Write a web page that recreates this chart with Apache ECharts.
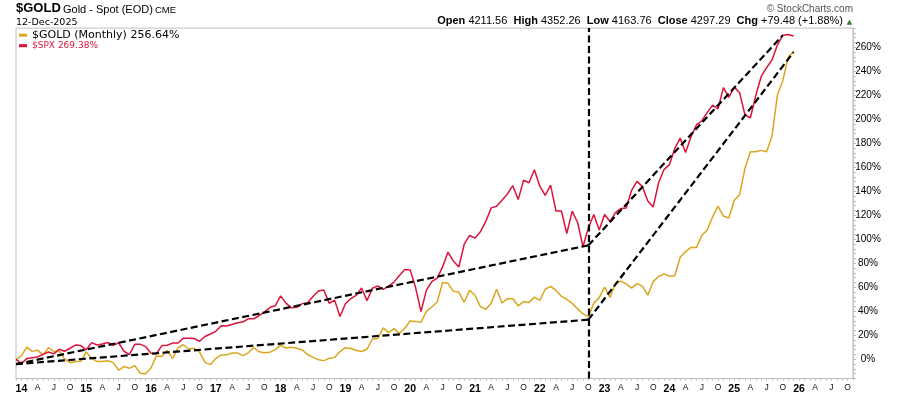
<!DOCTYPE html>
<html>
<head>
<meta charset="utf-8">
<title>$GOLD vs $SPX</title>
<script src="https://cdn.jsdelivr.net/npm/echarts@6/dist/echarts.min.js"></script>
<style>
  html, body { margin: 0; padding: 0; background: #fff; }
  #chart { width: 900px; height: 396px; }
</style>
</head>
<body>
<div id="chart"></div>
<script>
// % change since Dec-2013 close, monthly, Dec 2013 .. Dec 2025
let goldPct = [
  0,
  2.9, 10.1, 6.6, 7.6, 3.7, 9.7, 6.5, 6.8, 0.3, -2.8, -1.8, -1.7,
  6.2, 0.7, -1.8, -1.9, -1.2, -2.8, -9.1, -6.0, -7.5, -5.3, -11.6, -12.0,
  -7.3, 2.8, 2.3, 7.3, 0.8, 9.6, 12.1, 8.6, 9.2, 6.0, -2.6, -4.4,
  0.6, 3.6, 3.7, 5.3, 5.3, 3.1, 5.4, 9.7, 6.3, 5.5, 5.8, 8.1,
  11.6, 9.4, 10.0, 9.2, 7.8, 4.0, 1.6, -0.3, -1.1, 0.8, 1.4, 6.4,
  9.7, 9.0, 7.3, 6.5, 8.4, 16.9, 17.3, 26.2, 22.2, 25.6, 21.5, 25.9,
  31.9, 31.6, 30.9, 40.0, 43.6, 47.8, 64.0, 63.3, 56.6, 56.0, 47.5, 57.6,
  53.4, 43.9, 41.7, 46.8, 58.3, 46.9, 50.6, 50.5, 44.6, 48.0, 47.3, 51.8,
  49.1, 58.4, 60.8, 57.4, 52.5, 50.0, 46.6, 42.0, 37.8, 35.6, 46.8, 51.4,
  60.1, 51.6, 63.4, 65.2, 62.9, 59.3, 63.1, 61.0, 53.4, 64.7, 69.0, 71.2,
  69.3, 69.7, 85.1, 89.8, 93.2, 93.1, 103.1, 107.8, 118.7, 127.7, 119.4, 117.8,
  132.3, 137.2, 159.2, 172.9, 173.0, 174.1, 173.0, 186.1, 220.2, 232.2, 251.8, 256.64
]
let spxPct = [
  0,
  -3.6, 0.6, 1.3, 1.9, 4.1, 6.1, 4.5, 8.4, 6.7, 9.2, 11.9, 11.4,
  7.9, 13.9, 11.9, 12.8, 14.0, 11.6, 13.8, 6.7, 3.9, 12.5, 12.6, 10.6,
  5.0, 4.5, 11.4, 11.7, 13.5, 13.6, 17.6, 17.5, 17.3, 15.0, 19.0, 21.1,
  23.3, 27.9, 27.8, 29.0, 30.5, 31.1, 33.7, 33.7, 36.3, 39.3, 43.2, 44.6,
  52.8, 46.8, 42.9, 43.3, 46.4, 47.1, 52.4, 57.0, 57.7, 46.7, 49.3, 35.6,
  46.3, 50.6, 53.3, 59.4, 48.9, 59.2, 61.2, 58.3, 61.0, 64.3, 69.9, 74.8,
  74.5, 59.8, 39.8, 57.6, 64.7, 67.7, 77.0, 89.4, 81.9, 76.9, 95.9, 103.2,
  101.0, 106.2, 114.9, 126.2, 127.5, 132.5, 137.8, 144.7, 133.1, 149.2, 147.1, 157.9,
  144.3, 136.6, 145.1, 123.6, 123.6, 104.8, 123.5, 114.0, 94.0, 109.5, 120.7, 107.7,
  120.6, 114.8, 122.3, 125.6, 126.1, 140.8, 148.3, 143.9, 132.0, 126.9, 147.1, 158.1,
  162.2, 175.7, 184.3, 172.4, 185.5, 195.4, 198.8, 205.6, 211.8, 208.7, 226.4, 218.2,
  226.8, 222.2, 203.6, 201.3, 219.8, 235.7, 243.0, 249.5, 261.9, 270.1, 270.6, 269.38
]

// dashed trend lines: [fromMonth, fromPct, toMonth, toPct] (month = index into months)
let trendLines = [
  [0, -4, 106, 95],
  [0, -4, 106, 33],
  [106, 95, 142, 270],
  [106, 33, 144, 256]
]
let pivotMonth = 106 // Oct 2022

// x axis runs Dec 2013 .. Nov 2026
let months = []
for (let y = 2013; y <= 2026; y++) {
  for (let m = 1; m <= 12; m++) {
    if ((y === 2013 && m < 12) || (y === 2026 && m > 11)) continue
    months.push(y + '-' + (m < 10 ? '0' + m : m))
  }
}
let quarterLabels = { '04': 'A', '07': 'J', '10': 'O' }

let goldName = '$GOLD (Monthly)'
let spxName = '$SPX'
let goldColor = '#daa520'
let spxColor = '#dc143c'

let headerQuote = '{b|Open} 4211.56  {b|High} 4352.26  {b|Low} 4163.76  {b|Close} 4297.29  {b|Chg} +79.48 (+1.88%)'

function lastLabel(arr) {
  return arr[arr.length - 1].toFixed(2) + '%'
}

let chart = echarts.init(document.getElementById('chart'), null, { renderer: 'canvas' })

let trendSeries = trendLines.map(function (t, i) {
  let s = {
    name: 'trend' + i,
    type: 'line',
    data: [[t[0], t[1]], [t[2], t[3]]],
    symbol: 'none',
    silent: true,
    z: 5,
    lineStyle: { color: '#000', width: 2.2, type: [7, 3.5] }
  }
  if (i === 0) {
    s.markLine = {
      silent: true,
      symbol: 'none',
      label: { show: false },
      lineStyle: { color: '#000', width: 2.2, type: [7, 3.5] },
      data: [{ xAxis: pivotMonth }]
    }
  }
  return s
})

chart.setOption({
  animation: false,
  backgroundColor: '#fff',
  grid: {
    left: 16,
    right: 47,
    top: 28.1,
    bottom: 17.5,
    show: true,
    borderColor: '#c0c0c0',
    borderWidth: 1
  },
  legend: {
    orient: 'vertical',
    left: 19,
    top: 29.7,
    padding: 0,
    itemGap: 0,
    itemWidth: 8,
    itemHeight: 3,
    icon: 'rect',
    selectedMode: false,
    formatter: function (name) {
      return name === goldName ? name + ' ' + lastLabel(goldPct) : name + ' ' + lastLabel(spxPct)
    },
    data: [
      { name: goldName, textStyle: { color: '#000', fontSize: 11, lineHeight: 10, fontFamily: 'DejaVu Sans' } },
      { name: spxName, textStyle: { color: spxColor, fontSize: 9, lineHeight: 10, fontFamily: 'DejaVu Sans' } }
    ]
  },
  xAxis: {
    type: 'category',
    data: months,
    boundaryGap: false,
    axisLine: { show: true, onZero: false, lineStyle: { color: '#c0c0c0' } },
    axisTick: { show: true, interval: 0, length: 2, lineStyle: { color: '#bbb' } },
    axisLabel: {
      margin: 5,
      interval: function (i, val) {
        let mm = val.slice(5)
        return mm === '01' || quarterLabels[mm] !== undefined
      },
      formatter: function (val) {
        let mm = val.slice(5)
        if (mm === '01') return '{yr|' + val.slice(2, 4) + '}'
        return '{q|' + quarterLabels[mm] + '}'
      },
      rich: {
        yr: { fontFamily: 'Liberation Sans', fontWeight: 'bold', fontSize: 10.5, color: '#000' },
        q: { fontFamily: 'Liberation Sans', fontSize: 8.5, color: '#111' }
      }
    },
    splitLine: { show: false }
  },
  yAxis: {
    type: 'value',
    position: 'right',
    min: -16,
    max: 276,
    interval: 4,
    axisLine: { show: true, lineStyle: { color: '#c0c0c0' } },
    axisTick: { show: true, length: 3, lineStyle: { color: '#bbb' } },
    axisLabel: {
      margin: 15,
      align: 'center',
      fontFamily: 'Liberation Sans',
      fontSize: 10,
      color: '#000',
      formatter: function (v) {
        let r = Math.round(v)
        return r >= 0 && r % 20 === 0 ? r + '%' : ''
      }
    },
    splitLine: { show: false }
  },
  graphic: [
    { type: 'text', x: 16, y: 8.8, style: { text: '$GOLD', font: 'bold 13px "Liberation Sans"', fill: '#000', textVerticalAlign: 'middle' } },
    { type: 'text', x: 63, y: 9.5, style: { text: 'Gold - Spot (EOD)', font: '11px "Liberation Sans"', fill: '#000', textVerticalAlign: 'middle' } },
    { type: 'text', x: 155, y: 10, style: { text: 'CME', font: '9.5px "Liberation Sans"', fill: '#000', textVerticalAlign: 'middle' } },
    { type: 'text', x: 16, y: 22.7, style: { text: '12-Dec-2025', font: '9.5px "DejaVu Sans"', fill: '#000', textVerticalAlign: 'middle' } },
    { type: 'text', x: 853, y: 9.2, style: { text: '\u00a9 StockCharts.com', font: '10px "Liberation Sans"', fill: '#555', textAlign: 'right', textVerticalAlign: 'middle' } },
    {
      type: 'text', x: 843, y: 21.2,
      style: {
        text: headerQuote,
        font: '11px "Liberation Sans"',
        fill: '#000',
        textAlign: 'right',
        textVerticalAlign: 'middle',
        rich: { b: { fontFamily: 'Liberation Sans', fontWeight: 'bold', fontSize: 11, fill: '#000' } }
      }
    },
    { type: 'text', x: 849.5, y: 22.5, style: { text: '\u25b2', font: '7px "DejaVu Sans"', fill: '#2e7d32', textAlign: 'center', textVerticalAlign: 'middle' } }
  ],
  series: [
    {
      name: goldName,
      type: 'line',
      data: goldPct,
      symbol: 'none',
      color: goldColor,
      lineStyle: { color: goldColor, width: 1.5 },
      z: 3
    },
    {
      name: spxName,
      type: 'line',
      data: spxPct,
      symbol: 'none',
      color: spxColor,
      lineStyle: { color: spxColor, width: 1.5 },
      z: 4
    }
  ].concat(trendSeries)
})
</script>
</body>
</html>
